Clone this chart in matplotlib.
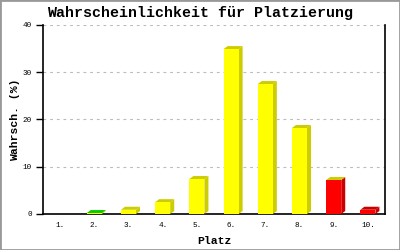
"""
Probability of placement chart (3D-ish bars)
"""

import matplotlib
matplotlib.use('Agg')
import matplotlib.pyplot as plt
from matplotlib.patches import Polygon, Rectangle

places = ['1.', '2.', '3.', '4.', '5.', '6.', '7.', '8.', '9.', '10.']
probs = [0.0, 0.2, 0.9, 2.5, 7.4, 34.9, 27.5, 18.2, 7.2, 0.9]
groups = ['g', 'y', 'y', 'y', 'y', 'y', 'y', 'y', 'r', 'r']
yticks = [0, 10, 20, 30, 40]

front = {'g': '#00FF00', 'y': '#FFFF00', 'r': '#FF0000'}
shade = {'g': '#00CC00', 'y': '#CCCC00', 'r': '#CC0000'}

fig = plt.figure(figsize=(4, 2.5), dpi=100)
fig.patches.append(Rectangle((0, 0), 1, 1, transform=fig.transFigure,
                             fill=False, edgecolor='#999999', lw=2.0))
ax = fig.add_axes([43 / 400, 36 / 250, 342 / 400, 189 / 250])

x = list(range(1, len(places) + 1))
width = 0.44
dx, dy = 0.117, 0.635  # depth of the fake 3D effect in data units

for i, (xi, v, g) in enumerate(zip(x, probs, groups)):
    if v <= 0:
        continue
    l, r = xi - width / 2, xi + width / 2
    # side face
    ax.add_patch(Polygon([(r, 0), (r + dx, dy), (r + dx, v + dy), (r, v)],
                         closed=True, facecolor=shade[g], edgecolor='none', zorder=3))
    # top face takes the shade of the previous bar (as in the original)
    top = shade[groups[i - 1]] if i > 0 else shade[g]
    ax.add_patch(Polygon([(l, v), (l + dx, v + dy), (r + dx, v + dy), (r, v)],
                         closed=True, facecolor=top, edgecolor='none', zorder=3))
    ax.bar(xi, v, width=width, color=front[g], edgecolor='none', zorder=4)

ax.set_xlim(0.5, 10.5)
ax.set_ylim(0, 40)
ax.set_xticks(x)
ax.set_xticklabels(places, family='Liberation Mono', fontsize=5.5)
ax.set_yticks(yticks)
ax.set_yticklabels([str(t) for t in yticks], family='Liberation Mono', fontsize=5.5)
ax.tick_params(axis='x', length=0, pad=6)
ax.tick_params(axis='y', length=5, width=1, pad=3)

ax.yaxis.grid(True, color='#BBBBBB', linestyle=(0, (2.5, 3.5)), linewidth=0.8, zorder=0)
ax.set_axisbelow(True)
ax.spines['top'].set_visible(False)
for s in ('left', 'right', 'bottom'):
    ax.spines[s].set_linewidth(1.2)
    ax.spines[s].set_color('black')

fig.text(0.5, 1 - 13 / 250, 'Wahrscheinlichkeit für Platzierung', family='Liberation Mono',
         fontweight='bold', fontsize=10.8, ha='center', va='center')
ax.set_xlabel('Platz', family='Liberation Mono', fontweight='bold', fontsize=8.2, labelpad=5)
ax.set_ylabel('Wahrsch. (%)', family='Liberation Mono', fontweight='bold', fontsize=8.2, labelpad=2)

fig.savefig('out.png', dpi=100)
